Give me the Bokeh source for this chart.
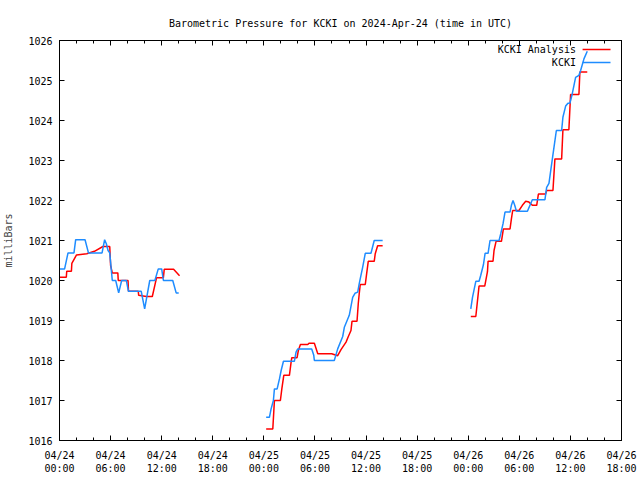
from bokeh.plotting import figure
from bokeh.models import Range1d, FixedTicker, LinearAxis, Label, BoxAnnotation
from bokeh.embed import file_html
from bokeh.resources import INLINE

NaN = float("nan")

# time in hours since 2024-04-24 00:00 UTC
analysis_hours = [
    0.0, 0.8, 0.85, 1.4, 1.45, 2.0, 3.2, 4.1, 5.1, 5.9, 6.0, 6.2, 6.85, 6.9, 8.05, 8.1, 9.25, 9.3,
    10.2, 10.9, 11.4, 12.2, 12.3, 13.4, 14.1,
    NaN,
    24.27, 25.05, 25.24, 25.94, 26.11, 26.34, 27.0, 27.2, 27.28, 27.9, 28.05, 28.29, 29.16, 29.3,
    29.93, 30.33, 31.97, 32.67, 33.06, 33.65, 33.92, 34.23, 34.35, 34.94, 35.09, 35.2, 35.32, 35.91,
    36.07, 36.26, 36.96, 37.08, 37.36, 37.95,
    NaN,
    48.3, 48.89, 49.27, 49.94, 50.26, 50.33, 50.91, 51.03, 51.27, 51.9, 52.13, 52.91, 53.07, 53.22,
    53.96, 54.36, 54.75, 55.13, 55.53, 56.04, 56.24, 57.09, 57.21, 57.95, 58.18, 58.97, 59.12, 59.82,
    60.02, 61.0, 61.11, 61.98,
]
analysis_mb = [
    1020.08, 1020.08, 1020.23, 1020.23, 1020.43, 1020.64, 1020.67, 1020.73, 1020.85, 1020.85, 1020.38,
    1020.19, 1020.19, 1020.0, 1020.0, 1019.73, 1019.73, 1019.63, 1019.6, 1019.6, 1020.07, 1020.07,
    1020.28, 1020.28, 1020.12,
    NaN,
    1016.29, 1016.29, 1017.0, 1017.0, 1017.29, 1017.63, 1017.63, 1017.96, 1018.07, 1018.07, 1018.25,
    1018.4, 1018.4, 1018.43, 1018.43, 1018.17, 1018.17, 1018.12, 1018.27, 1018.46, 1018.6, 1018.75,
    1018.98, 1018.98, 1019.43, 1019.67, 1019.9, 1019.9, 1020.17, 1020.48, 1020.48, 1020.67, 1020.87,
    1020.87,
    NaN,
    1019.1, 1019.1, 1019.86, 1019.86, 1020.22, 1020.48, 1020.48, 1020.75, 1020.98, 1020.98, 1021.29,
    1021.29, 1021.54, 1021.75, 1021.75, 1021.88, 1021.98, 1021.96, 1021.88, 1021.88, 1022.16, 1022.16,
    1022.25, 1022.25, 1023.04, 1023.04, 1023.77, 1023.77, 1024.65, 1024.65, 1025.21, 1025.21,
]

kcki_hours = [
    0.0, 0.6, 1.0, 1.7, 1.9, 3.0, 3.4, 5.0, 5.3, 5.5, 5.7, 5.9, 6.2, 6.6, 6.95, 7.3, 7.85, 8.1, 9.6,
    10.0, 10.6, 11.2, 11.6, 12.0, 12.2, 13.3, 13.7, 14.0,
    NaN,
    24.27, 24.65, 24.85, 25.12, 25.24, 25.56, 25.83, 26.03, 26.3, 27.58, 27.78, 27.98, 29.62, 29.86,
    29.93, 32.27, 32.67, 33.26, 33.45, 34.03, 34.43, 34.7, 35.02, 35.2, 35.6, 35.91, 36.58, 36.96,
    37.95,
    NaN,
    48.3, 48.5, 48.89, 49.27, 49.47, 49.79, 49.98, 50.33, 50.56, 51.62, 51.82, 52.09, 52.32, 52.91,
    53.07, 53.26, 53.46, 53.66, 54.95, 55.53, 57.01, 57.21, 57.48, 57.88, 58.07, 58.35, 58.97, 59.12,
    59.44, 59.71, 59.94, 60.22, 60.61, 61.0, 61.2, 61.59, 61.98,
]
kcki_mb = [
    1020.29, 1020.29, 1020.69, 1020.69, 1021.02, 1021.02, 1020.69, 1020.69, 1021.02, 1020.92, 1020.75,
    1020.69, 1020.0, 1020.0, 1019.69, 1020.0, 1020.0, 1019.73, 1019.73, 1019.29, 1020.0, 1020.0,
    1020.29, 1020.29, 1020.0, 1020.0, 1019.69, 1019.69,
    NaN,
    1016.58, 1016.58, 1016.79, 1017.0, 1017.29, 1017.29, 1017.54, 1017.75, 1017.98, 1017.98, 1018.21,
    1018.29, 1018.29, 1018.13, 1018.0, 1018.0, 1018.29, 1018.6, 1018.83, 1019.13, 1019.58, 1019.68,
    1019.71, 1019.92, 1020.33, 1020.68, 1020.68, 1021.0, 1021.0,
    NaN,
    1019.29, 1019.58, 1019.98, 1019.98, 1020.13, 1020.4, 1020.68, 1020.68, 1021.0, 1021.0, 1021.17,
    1021.42, 1021.71, 1021.71, 1021.88, 1022.0, 1021.88, 1021.73, 1021.73, 1022.02, 1022.02, 1022.33,
    1022.43, 1023.04, 1023.33, 1023.75, 1023.75, 1024.08, 1024.36, 1024.43, 1024.43, 1024.67, 1025.08,
    1025.13, 1025.25, 1025.54, 1025.73,
]

tick_hours = [0, 6, 12, 18, 24, 30, 36, 42, 48, 54, 60, 66]
tick_labels = ["04/24\n00:00", "04/24\n06:00", "04/24\n12:00", "04/24\n18:00",
               "04/25\n00:00", "04/25\n06:00", "04/25\n12:00", "04/25\n18:00",
               "04/26\n00:00", "04/26\n06:00", "04/26\n12:00", "04/26\n18:00"]
minor_hours = list(range(0, 67, 2))
y_ticks = [1016, 1017, 1018, 1019, 1020, 1021, 1022, 1023, 1024, 1025, 1026]

series_names = ["KCKI Analysis", "KCKI"]
series_colors = ["#ff0000", "#1e8cff"]
title_text = "Barometric Pressure for KCKI on 2024-Apr-24 (time in UTC)"

FONT = "DejaVu Sans Mono"

p = figure(width=640, height=480, output_backend="svg", toolbar_location=None,
           x_range=Range1d(0, 66), y_range=Range1d(1016, 1026), title=title_text)
p.min_border_left = 58
p.min_border_right = 19
p.min_border_top = 40
p.min_border_bottom = 40
p.background_fill_color = "white"
p.border_fill_color = "white"
p.outline_line_color = "black"
p.outline_line_width = 1
p.grid.visible = False

p.title.text_font = FONT
p.title.text_font_size = "10px"
p.title.text_font_style = "normal"
p.title.align = "center"
p.title.text_color = "black"
p.title.standoff = 24

xt = FixedTicker(ticks=tick_hours, minor_ticks=minor_hours)
yt = FixedTicker(ticks=y_ticks, minor_ticks=[])

def style_axis(ax, labels=True):
    ax.axis_line_color = "black"
    ax.major_tick_in = 5
    ax.major_tick_out = 0
    ax.minor_tick_in = 3
    ax.minor_tick_out = 0
    ax.major_tick_line_color = "black"
    ax.minor_tick_line_color = "black"
    ax.major_label_text_font = FONT
    ax.major_label_text_font_size = "10px" if labels else "0px"
    ax.major_label_text_color = "black"

xa = p.xaxis[0]
xa.ticker = xt
xa.major_label_overrides = {h: lab for h, lab in zip(tick_hours, tick_labels)}
style_axis(xa)
xa.major_label_standoff = 9

ya = p.yaxis[0]
ya.ticker = yt
style_axis(ya)
ya.major_label_standoff = 7
ya.axis_label = "milliBars"
ya.axis_label_text_font = FONT
ya.axis_label_text_font_size = "10px"
ya.axis_label_text_font_style = "normal"
ya.axis_label_standoff = 11

top = LinearAxis(ticker=FixedTicker(ticks=tick_hours, minor_ticks=minor_hours))
style_axis(top, labels=False)
top.major_label_standoff = 0
top.major_label_overrides = {h: "" for h in tick_hours}
p.add_layout(top, "above")
right = LinearAxis(ticker=FixedTicker(ticks=y_ticks, minor_ticks=[]))
style_axis(right, labels=False)
right.major_label_standoff = 0
right.major_label_overrides = {t: "" for t in y_ticks}
p.add_layout(right, "right")

p.line(analysis_hours, analysis_mb, line_color=series_colors[0], line_width=1.5)
p.line(kcki_hours, kcki_mb, line_color=series_colors[1], line_width=1.5)

# gnuplot-style key: text on the left, sample line on the right
key_y = [1025.775, 1025.45]
for name, color, ky in zip(series_names, series_colors, key_y):
    p.add_layout(Label(x=60.65, y=ky, text=name, text_align="right", text_baseline="middle",
                       text_font=FONT, text_font_size="10px", text_color="black"))
    p.add_layout(BoxAnnotation(left=61.43, right=64.71, bottom=ky - 0.018, top=ky + 0.018,
                               fill_color=color, fill_alpha=1.0, line_alpha=0))

open("out.html", "w").write(file_html(p, INLINE))
